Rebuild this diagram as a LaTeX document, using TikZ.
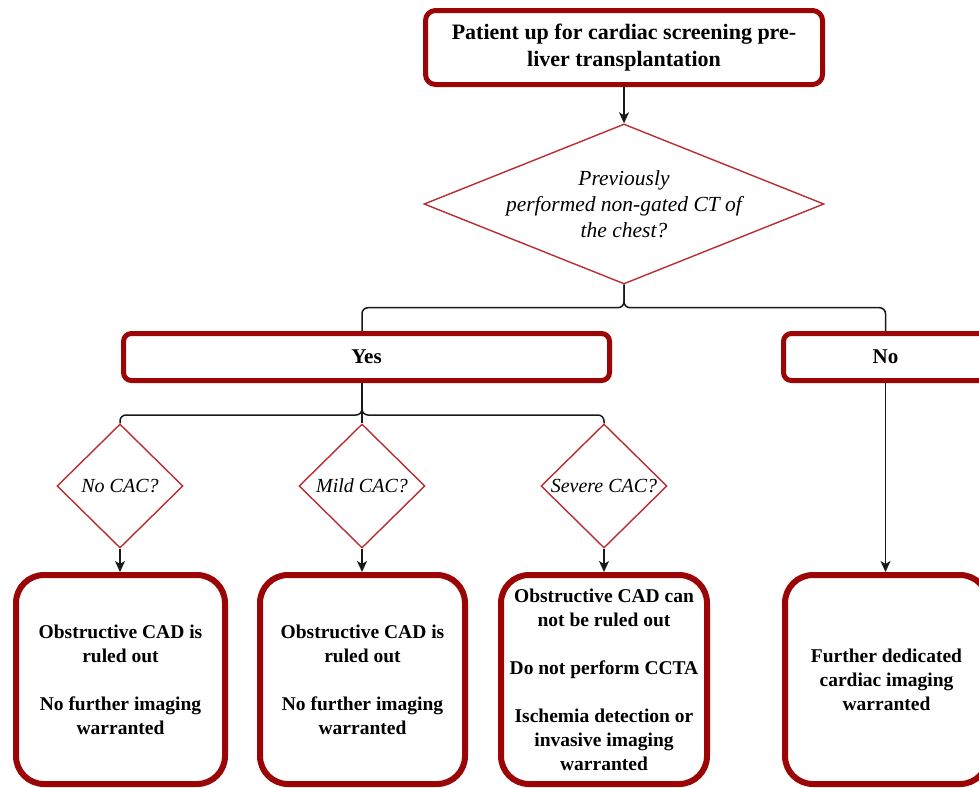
\documentclass[tikz,border=0pt]{standalone}
\usepackage{fontspec}
\setmainfont{Liberation Serif}
\usetikzlibrary{shapes.geometric,arrows.meta,calc}
\definecolor{boxred}{RGB}{155,5,5}
\definecolor{dred}{RGB}{185,45,50}
\definecolor{conncol}{RGB}{25,25,25}
\begin{document}
\begin{tikzpicture}[x=1pt,y=-1pt,
  topbox/.style={draw=boxred, line width=5pt, rounded corners=10pt, minimum width=397pt, minimum height=74pt, inner sep=0pt, align=center, font=\fontsize{22}{27}\selectfont\bfseries},
  ynbox/.style={draw=boxred, line width=5pt, rounded corners=8pt, minimum height=47pt, inner sep=0pt, align=center, font=\fontsize{21}{25}\selectfont\bfseries},
  resbox/.style={draw=boxred, line width=6pt, rounded corners=28pt, minimum height=209pt, inner sep=0pt, align=center, font=\fontsize{19.5}{24}\selectfont\bfseries},
  bigq/.style={diamond, draw=dred, line width=1.4pt, minimum width=400pt, minimum height=160pt, inner sep=0pt},
  smallq/.style={diamond, draw=dred, line width=1.4pt, minimum width=126pt, minimum height=124pt, inner sep=0pt},
  qtext/.style={inner sep=0pt, align=center, font=\fontsize{21.5}{26}\selectfont\itshape},
  sqtext/.style={inner sep=0pt, align=center, font=\fontsize{20}{24}\selectfont\itshape},
  conn/.style={draw=conncol, line width=1.5pt, rounded corners=6pt},
  arr/.style={draw=conncol, line width=1.5pt, -{Stealth[length=11pt,width=10pt,inset=3pt]}}
]
\useasboundingbox (0,0) rectangle (979,787);
\clip (0,0) rectangle (979,787);
\fill[white] (0,0) rectangle (979,787);

% nodes
\node[topbox] (top) at (624,47.5) {Patient up for cardiac screening pre-\\liver transplantation};
\node[bigq] (q) at (624,204) {};
\node[qtext] (qt) at (q) {Previously\\performed non-gated CT of\\the chest?};

\node[ynbox, minimum width=486pt] (yes) at (366.5,357) {Yes};
\node[ynbox, minimum width=204pt] (no) at (885.5,357) {No};

\node[smallq] (d1) at (120,486) {};
\node[sqtext] (d1t) at (d1) {No CAC?};
\node[smallq] (d2) at (362,486) {};
\node[sqtext] (d2t) at (d2) {Mild CAC?};
\node[smallq] (d3) at (604,486) {};
\node[sqtext] (d3t) at (d3) {Severe CAC?};

\node[resbox, minimum width=209pt] (r1) at (120.5,679.5) {Obstructive CAD is\\ruled out\\[24pt]No further imaging\\warranted};
\node[resbox, minimum width=205pt] (r2) at (362.5,679.5) {Obstructive CAD is\\ruled out\\[24pt]No further imaging\\warranted};
\node[resbox, minimum width=206pt] (r3) at (604,679.5) {Obstructive CAD can\\not be ruled out\\[24pt]Do not perform CCTA\\[24pt]Ischemia detection or\\invasive imaging\\warranted};
\node[resbox, minimum width=203pt] (r4) at (886.5,679.5) {Further dedicated\\cardiac imaging\\warranted};

% helper coordinates
\coordinate (b1) at ($(q.south)+(0,23)$);
\coordinate (b2) at ($(yes.south)+(0,32)$);

% connectors
\draw[arr] (top.south) -- (top.south |- q.north);
\draw[conn] (q.south) |- (d2.north |- b1) -- (d2.north |- yes.north);
\draw[conn] (q.south) |- (no.north |- b1) -- (no.north);

\draw[conn] (d2.north |- yes.south) |- (d1.north |- b2) -- (d1.north);
\draw[conn] (d2.north |- yes.south) -- (d2.north);
\draw[conn] (d2.north |- yes.south) |- (d3.north |- b2) -- (d3.north);

\draw[arr] (d1.south) -- (d1.south |- r1.north);
\draw[arr] (d2.south) -- (d2.south |- r2.north);
\draw[arr] (d3.south) -- (d3.south |- r3.north);
\draw[arr] (no.south) -- (no.south |- r4.north);
\end{tikzpicture}
\end{document}
